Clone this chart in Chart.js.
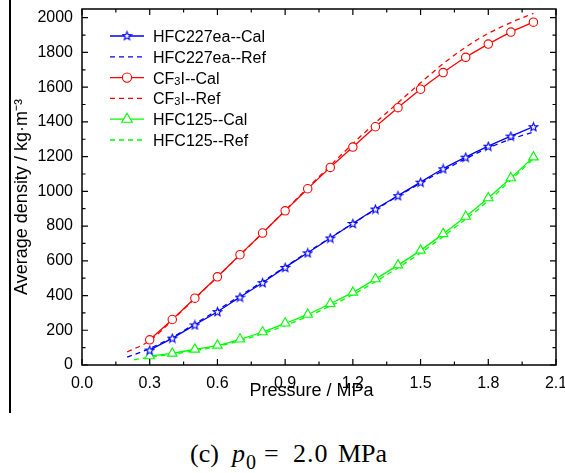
<!DOCTYPE html>
<html><head><meta charset="utf-8">
<script src="https://cdn.jsdelivr.net/npm/chart.js@4/dist/chart.umd.min.js"></script>
<style>
html,body{margin:0;padding:0;background:#fff;width:565px;height:473px;overflow:hidden;position:relative}
#c{position:absolute;left:0;top:0}
#vline{position:absolute;left:9px;top:0;width:2px;height:413px;background:#000}
.cap{position:absolute;top:441px;font-family:"Liberation Serif","Times New Roman",serif;font-size:26px;line-height:25px;white-space:pre;color:#000}
</style></head><body>
<div id="vline"></div>
<canvas id="c" width="565" height="405"></canvas>
<span class="cap" style="left:190px">(c)</span>
<span class="cap" style="left:232px"><i>p</i></span>
<span class="cap" style="left:246px;top:450px;font-size:20px">0</span>
<span class="cap" style="left:264px">=</span>
<span class="cap" style="left:293px;letter-spacing:1px">2.0</span>
<span class="cap" style="left:338px">MPa</span>
<script>
// ---- data ----
const xCal = [0.3,0.4,0.5,0.6,0.7,0.8,0.9,1.0,1.1,1.2,1.3,1.4,1.5,1.6,1.7,1.8,1.9,2.0];
const xRef = [0.2,0.3,0.4,0.5,0.6,0.7,0.8,0.9,1.0,1.1,1.2,1.3,1.4,1.5,1.6,1.7,1.8,1.9,2.0];
const xRef125 = [0.23,0.3,0.4,0.5,0.6,0.7,0.8,0.9,1.0,1.1,1.2,1.3,1.4,1.5,1.6,1.7,1.8,1.9,2.0];

const hfc227Cal = [86,155,231,307,391,474,562,646,731,815,898,975,1053,1130,1197,1260,1318,1372];
const hfc227Ref = [45,95,160,237,316,398,480,565,650,733,815,895,972,1048,1120,1188,1250,1300,1342];
const cf3iCal = [145,262,385,508,635,760,888,1015,1138,1255,1372,1482,1588,1684,1772,1848,1917,1974];
const cf3iRef = [75,140,258,382,507,633,760,890,1020,1148,1275,1395,1510,1625,1735,1830,1910,1972,2025];
const hfc125Cal = [52,67,90,113,148,190,240,291,353,418,495,575,660,755,855,962,1077,1197];
const hfc125Ref = [30,45,62,83,107,140,180,228,280,340,405,480,560,645,740,840,945,1065,1188];

const seriesLabels = ['HFC227ea--Cal','HFC227ea--Ref','CF\u2083I--Cal','CF\u2083I--Ref','HFC125--Cal','HFC125--Ref'];
const xTicks = [0,0.3,0.6,0.9,1.2,1.5,1.8,2.1];
const xTickLabels = ['0.0','0.3','0.6','0.9','1.2','1.5','1.8','2.1'];
const yTicks = [0,200,400,600,800,1000,1200,1400,1600,1800,2000];
const yTickLabels = ['0','200','400','600','800','1000','1200','1400','1600','1800','2000'];
const xMinor = [0.15,0.45,0.75,1.05,1.35,1.65,1.95];
const yMinor = [100,300,500,700,900,1100,1300,1500,1700,1900];

const BLUE='#0000ff', RED='#ff0000', GREEN='#00ff00';
const FONT='"Liberation Sans", Arial, sans-serif';

// star marker
function makeStar(color){
  const c=document.createElement('canvas'); c.width=11; c.height=11;
  const g=c.getContext('2d');
  g.beginPath();
  for(let i=0;i<10;i++){
    const r = i%2===0 ? 4.4 : 1.9;
    const a = -Math.PI/2 + i*Math.PI/5;
    const px = 5.5 + r*Math.cos(a), py = 5.9 + r*Math.sin(a);
    if(i===0) g.moveTo(px,py); else g.lineTo(px,py);
  }
  g.closePath(); g.fillStyle='#fff'; g.fill();
  g.strokeStyle=color; g.lineWidth=1.1; g.stroke();
  return c;
}
const starImg = makeStar(BLUE);

const pts = (xs, ys) => xs.map((x,i)=>({x:x, y:ys[i]}));

const calCommon = {showLine:true, borderWidth:1.3, pointBackgroundColor:'#fff', pointBorderWidth:1.1, cubicInterpolationMode:'monotone', fill:false};
const refCommon = {showLine:true, borderWidth:1.3, borderDash:[5,4], pointRadius:0, cubicInterpolationMode:'monotone', fill:false};

const datasets = [
  Object.assign({label:seriesLabels[0], data:pts(xCal,hfc227Cal), borderColor:BLUE, pointStyle:starImg, pointRadius:5}, calCommon),
  Object.assign({label:seriesLabels[2], data:pts(xCal,cf3iCal), borderColor:RED, pointBorderColor:RED, pointStyle:'circle', pointRadius:4.2}, calCommon),
  Object.assign({label:seriesLabels[4], data:pts(xCal,hfc125Cal), borderColor:GREEN, pointBorderColor:GREEN, pointStyle:'triangle', pointRadius:5.5}, calCommon),
  Object.assign({label:seriesLabels[1], data:pts(xRef,hfc227Ref), borderColor:BLUE}, refCommon),
  Object.assign({label:seriesLabels[3], data:pts(xRef,cf3iRef), borderColor:RED}, refCommon),
  Object.assign({label:seriesLabels[5], data:pts(xRef125,hfc125Ref), borderColor:GREEN}, refCommon),
];

// frame + inward ticks
const framePlugin = {
  id:'frame',
  afterDatasetsDraw(chart){
    const {ctx, chartArea:a, scales:{x,y}} = chart;
    ctx.save();
    ctx.strokeStyle='#000'; ctx.lineWidth=1.5;
    ctx.strokeRect(a.left, a.top, a.right-a.left, a.bottom-a.top);
    ctx.lineWidth=1.2;
    ctx.beginPath();
    const tx=(v,len)=>{const p=x.getPixelForValue(v); ctx.moveTo(p,a.bottom); ctx.lineTo(p,a.bottom-len); ctx.moveTo(p,a.top); ctx.lineTo(p,a.top+len);};
    const ty=(v,len)=>{const p=y.getPixelForValue(v); ctx.moveTo(a.left,p); ctx.lineTo(a.left+len,p); ctx.moveTo(a.right,p); ctx.lineTo(a.right-len,p);};
    xTicks.forEach(v=>tx(v,6)); xMinor.forEach(v=>tx(v,3.5));
    yTicks.forEach(v=>ty(v,6)); yMinor.forEach(v=>ty(v,3.5));
    ctx.stroke();
    ctx.restore();
  }
};

// legend
function drawLabel(ctx, text, x, y){
  const parts = text.split('\u2083');
  let cx = x;
  ctx.textBaseline='alphabetic'; ctx.textAlign='left';
  parts.forEach((p,i)=>{
    ctx.font='16px '+FONT; ctx.fillText(p,cx,y); cx+=ctx.measureText(p).width;
    if(i<parts.length-1){ ctx.font='11px '+FONT; ctx.fillText('3',cx,y+1); cx+=ctx.measureText('3').width; }
  });
}
const legendPlugin = {
  id:'customLegend',
  afterDraw(chart){
    const ctx = chart.ctx;
    const rows = [
      {label:seriesLabels[0], color:BLUE, dash:false, mk:'star'},
      {label:seriesLabels[1], color:BLUE, dash:true},
      {label:seriesLabels[2], color:RED, dash:false, mk:'circle'},
      {label:seriesLabels[3], color:RED, dash:true},
      {label:seriesLabels[4], color:GREEN, dash:false, mk:'triangle'},
      {label:seriesLabels[5], color:GREEN, dash:true},
    ];
    ctx.save();
    rows.forEach((r,i)=>{
      const yy = 36 + i*20.8;
      ctx.strokeStyle=r.color; ctx.lineWidth=1.3;
      ctx.setLineDash(r.dash?[5,4]:[]);
      ctx.beginPath(); ctx.moveTo(110,yy); ctx.lineTo(144,yy); ctx.stroke();
      ctx.setLineDash([]);
      const mx=127;
      if(r.mk==='star'){ ctx.drawImage(starImg, mx-5.5, yy-5.9); }
      else if(r.mk==='circle'){ ctx.beginPath(); ctx.arc(mx,yy,4.6,0,Math.PI*2); ctx.fillStyle='#fff'; ctx.fill(); ctx.lineWidth=1.1; ctx.stroke(); }
      else if(r.mk==='triangle'){ const rr=6; ctx.beginPath(); ctx.moveTo(mx,yy-rr); ctx.lineTo(mx+rr*0.866,yy+rr*0.5); ctx.lineTo(mx-rr*0.866,yy+rr*0.5); ctx.closePath(); ctx.fillStyle='#fff'; ctx.fill(); ctx.lineWidth=1.1; ctx.stroke(); }
      ctx.fillStyle='#000';
      drawLabel(ctx, r.label, 153, yy+6);
    });
    ctx.restore();
  }
};

new Chart(document.getElementById('c'), {
  type:'scatter',
  data:{datasets},
  options:{
    responsive:false, animation:false, devicePixelRatio:1,
    layout:{padding:{top:9,right:9,left:0,bottom:0}},
    plugins:{legend:{display:false}, tooltip:{enabled:false}},
    scales:{
      x:{type:'linear', min:0, max:2.1,
        afterBuildTicks:s=>{s.ticks=xTicks.map(v=>({value:v}));},
        afterFit:s=>{s.height=40; s.paddingLeft=0; s.paddingRight=0;},
        ticks:{padding:9, color:'#000', font:{family:FONT,size:16}, callback:(v)=>{const i=xTicks.findIndex(t=>Math.abs(t-v)<1e-6); return i>=0?xTickLabels[i]:'';}, maxRotation:0, autoSkip:false},
        grid:{display:false, drawTicks:false}, border:{display:false},
        title:{display:true, text:'Pressure / MPa   ', color:'#000', font:{family:FONT,size:18}, padding:{top:0,bottom:3}}
      },
      y:{type:'linear', min:0, max:2050,
        afterBuildTicks:s=>{s.ticks=yTicks.map(v=>({value:v}));},
        afterFit:s=>{s.width=82; s.paddingTop=0; s.paddingBottom=0;},
        ticks:{padding:9, color:'#000', font:{family:FONT,size:16}, callback:(v)=>{const i=yTicks.indexOf(v); return i>=0?yTickLabels[i]:'';}, autoSkip:false},
        grid:{display:false, drawTicks:false}, border:{display:false},
        title:{display:true, text:'Average density / kg\u00b7m\u207b\u00b3    ', color:'#000', font:{family:FONT,size:18}, padding:{top:11,bottom:0}}
      }
    }
  },
  plugins:[framePlugin, legendPlugin]
});
</script>
</body></html>
